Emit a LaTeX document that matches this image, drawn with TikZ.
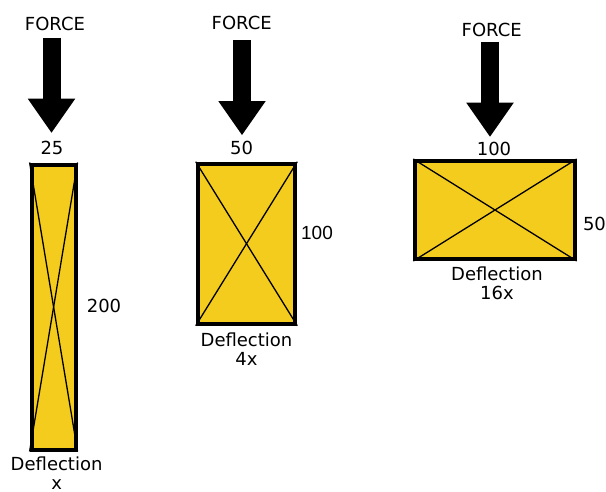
\documentclass[tikz,border=0pt]{standalone}
\usepackage{fontspec}
\setmainfont{DejaVu Sans}
\newfontfamily\arialfont{Liberation Sans}
\usetikzlibrary{arrows.meta,positioning}
\definecolor{beamyellow}{RGB}{244,204,30}
\tikzset{
  beam/.style 2 args={draw=black, line width=4pt, fill=beamyellow,
    minimum width=#1, minimum height=#2, inner sep=0},
  diag/.style={line width=1.3pt},
  lbl/.style={inner sep=0, font=\fontsize{18}{19}\selectfont},
  defl/.style={lbl, align=center},
  force arrow/.style={line width=18pt, -{Triangle[width=47.5pt,length=34pt,line width=0pt]}}
}

\begin{document}
\begin{tikzpicture}[x=1pt, y=-1pt]
  \useasboundingbox (0,0) rectangle (606,491);

  % the three beams
  \node[beam={44pt}{285pt}] (b1) at (53.6,307) {};
  \node[beam={97.6pt}{160pt}] (b2) at (246.5,243.7) {};
  \node[beam={159.4pt}{98pt}] (b3) at (495,210) {};
  \foreach \b in {b1,b2,b3} {
    \draw[diag] (\b.north west) -- (\b.south east);
    \draw[diag] (\b.north east) -- (\b.south west);
  }

  % forces
  \node[lbl] (f1) at (55,24) {FORCE};
  \node[lbl] (f2) at (241.7,23) {FORCE};
  \node[lbl] (f3) at (491.7,30) {FORCE};
  \coordinate (t1) at (51.5,37.7);
  \coordinate (p1) at (51.5,132.7);
  \coordinate (t2) at (242,40);
  \coordinate (p2) at (242,135);
  \coordinate (t3) at (490,41.7);
  \coordinate (p3) at (490,136.7);
  \draw[force arrow] (t1) -- (p1);
  \draw[force arrow] (t2) -- (p2);
  \draw[force arrow] (t3) -- (p3);

  % widths
  \node[lbl] (n1) at (52,148) {25};
  \node[lbl] (n2) at (241.7,148) {50};
  \node[lbl] (n3) at (494,149.3) {100};

  % heights
  \node[lbl] (h1) at (104,306) {200};
  \node[inner sep=0, font=\arialfont\fontsize{19}{21}\selectfont] (h2) at (317,232.5) {100};
  \node[lbl] (h3) at (594.5,224) {50};

  % deflections
  \node[defl, below=5pt of b1, xshift=3pt] (d1) {Deflection\\x};
  \node[defl, below=7pt of b2] (d2) {Deflection\\4x};
  \node[defl, below=6pt of b3, xshift=2pt] (d3) {Deflection\\16x};
\end{tikzpicture}
\end{document}
